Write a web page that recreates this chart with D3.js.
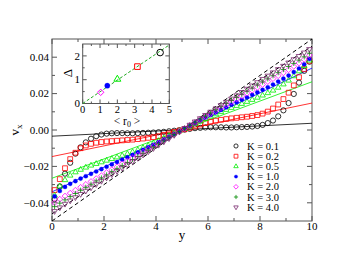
<!DOCTYPE html>
<html>
<head>
<meta charset="utf-8">
<script src="https://cdn.jsdelivr.net/npm/d3@7"></script>
<style>
  body { margin: 0; background: #fff; }
</style>
</head>
<body>
<div id="chart"></div>
<script>
// bin centres across the channel
var yPos = [0.1,0.3,0.5,0.7,0.9,1.1,1.3,1.5,1.7,1.9,2.1,2.3,2.5,2.7,2.9,3.1,3.3,3.5,3.7,3.9,4.1,4.3,4.5,4.7,4.9,
            5.1,5.3,5.5,5.7,5.9,6.1,6.3,6.5,6.7,6.9,7.1,7.3,7.5,7.7,7.9,8.1,8.3,8.5,8.7,8.9,9.1,9.3,9.5,9.7,9.9];

var vK01 = [-0.0380,-0.0310,-0.0240,-0.0180,-0.0130,-0.0095,-0.0068,-0.0048,-0.0034,-0.0025,-0.0020,-0.0018,-0.0017,-0.0017,-0.0018,-0.0018,-0.0017,-0.0016,-0.0015,-0.0014,-0.0012,-0.0010,-0.0007,-0.0004,-0.0001,
            0.0002,0.0006,0.0010,0.0012,0.0014,0.0015,0.0015,0.0015,0.0014,0.0014,0.0015,0.0016,0.0017,0.0019,0.0022,0.0028,0.0038,0.0052,0.0075,0.0108,0.0148,0.0198,0.0260,0.0325,0.0375];
var vK02 = [-0.0330,-0.0270,-0.0210,-0.0160,-0.0125,-0.0100,-0.0085,-0.0076,-0.0070,-0.0066,-0.0063,-0.0061,-0.0059,-0.0057,-0.0055,-0.0053,-0.0050,-0.0047,-0.0043,-0.0039,-0.0034,-0.0027,-0.0019,-0.0011,-0.0003,
            0.0004,0.0012,0.0020,0.0030,0.0038,0.0045,0.0051,0.0056,0.0060,0.0064,0.0067,0.0070,0.0073,0.0077,0.0082,0.0090,0.0101,0.0118,0.0140,0.0170,0.0205,0.0245,0.0290,0.0335,0.0380];
var vK05 = [-0.0360,-0.0310,-0.0275,-0.0250,-0.0232,-0.0218,-0.0206,-0.0195,-0.0186,-0.0177,-0.0168,-0.0159,-0.0150,-0.0141,-0.0131,-0.0121,-0.0110,-0.0098,-0.0086,-0.0073,-0.0060,-0.0046,-0.0032,-0.0019,-0.0006,
            0.0006,0.0019,0.0033,0.0047,0.0061,0.0074,0.0087,0.0099,0.0111,0.0122,0.0133,0.0144,0.0155,0.0166,0.0178,0.0190,0.0203,0.0217,0.0233,0.0251,0.0272,0.0296,0.0323,0.0352,0.0382];
var vK10 = [-0.0365,-0.0335,-0.0313,-0.0296,-0.0281,-0.0267,-0.0254,-0.0241,-0.0228,-0.0215,-0.0202,-0.0189,-0.0176,-0.0163,-0.0150,-0.0137,-0.0123,-0.0109,-0.0095,-0.0081,-0.0067,-0.0052,-0.0037,-0.0022,-0.0007,
            0.0007,0.0022,0.0038,0.0053,0.0068,0.0083,0.0097,0.0111,0.0125,0.0139,0.0152,0.0166,0.0179,0.0193,0.0207,0.0221,0.0235,0.0250,0.0266,0.0282,0.0299,0.0318,0.0338,0.0361,0.0390];
var vK20 = [-0.0400,-0.0380,-0.0363,-0.0347,-0.0331,-0.0315,-0.0299,-0.0283,-0.0267,-0.0251,-0.0234,-0.0218,-0.0202,-0.0186,-0.0170,-0.0154,-0.0138,-0.0122,-0.0106,-0.0089,-0.0073,-0.0057,-0.0041,-0.0025,-0.0008,
            0.0008,0.0025,0.0041,0.0058,0.0074,0.0090,0.0106,0.0122,0.0138,0.0154,0.0170,0.0186,0.0202,0.0218,0.0234,0.0250,0.0266,0.0282,0.0298,0.0314,0.0331,0.0350,0.0368,0.0388,0.0410];
var vK30 = [-0.0421,-0.0402,-0.0384,-0.0366,-0.0349,-0.0331,-0.0315,-0.0298,-0.0280,-0.0264,-0.0247,-0.0229,-0.0213,-0.0196,-0.0178,-0.0162,-0.0145,-0.0128,-0.0111,-0.0094,-0.0077,-0.0060,-0.0043,-0.0026,-0.0009,
            0.0009,0.0026,0.0043,0.0061,0.0077,0.0094,0.0111,0.0128,0.0146,0.0162,0.0179,0.0196,0.0213,0.0230,0.0247,0.0264,0.0281,0.0298,0.0315,0.0332,0.0349,0.0366,0.0384,0.0402,0.0422];
var vK40 = [-0.0446,-0.0426,-0.0406,-0.0388,-0.0370,-0.0352,-0.0334,-0.0316,-0.0298,-0.0280,-0.0262,-0.0244,-0.0226,-0.0208,-0.0190,-0.0172,-0.0154,-0.0136,-0.0118,-0.0100,-0.0082,-0.0064,-0.0046,-0.0028,-0.0010,
            0.0010,0.0028,0.0046,0.0064,0.0082,0.0100,0.0118,0.0136,0.0154,0.0172,0.0190,0.0208,0.0226,0.0244,0.0262,0.0280,0.0298,0.0316,0.0334,0.0352,0.0370,0.0388,0.0406,0.0425,0.0444];

// linear fits (value at y = 0 and y = 10)
var fitK01 = [-0.0034, 0.0037];
var fitK02 = [-0.0146, 0.0148];
var fitK05 = [-0.0265, 0.0265];
var fitK10 = [-0.0340, 0.0340];
var wallLine = [-0.05, 0.05];
var wallLine2 = [-0.046, 0.046];

var labels = ["K = 0.1", "K = 0.2", "K = 0.5", "K = 1.0", "K = 2.0", "K = 3.0", "K = 4.0"];

// inset: slip length vs mean radius
var insetR0 = [4.47, 3.16, 2.0, 1.42, 1.04];
var insetDelta = [2.14, 1.55, 1.02, 0.75, 0.47];
var insetFit = [0, 2.46];

var xTicks = [0, 2, 4, 6, 8, 10];
var yTicks = [-0.04, -0.02, 0.00, 0.02, 0.04];
var insetXTicks = [0, 1, 2, 3, 4, 5];
var insetYTicks = [0, 1, 2];

var series = [
  {v: vK01, shape: "circle",  color: "#000000"},
  {v: vK02, shape: "square",  color: "#ff0000"},
  {v: vK05, shape: "triUp",   color: "#00ee00"},
  {v: vK10, shape: "dot",     color: "#0000ff"},
  {v: vK20, shape: "diamond", color: "#ff00ff"},
  {v: vK30, shape: "plus",    color: "#008b00"},
  {v: vK40, shape: "triDown", color: "#7a2a6e"}
];

var width = 339, height = 260;
var frame = "#555";
var serif = "'Liberation Serif', 'Times New Roman', Times, serif";

var svg = d3.select("#chart").append("svg")
    .attr("width", width)
    .attr("height", height)
    .attr("font-family", serif);

var x = d3.scaleLinear().domain([0, 10]).range([52, 312]);
var y = d3.scaleLinear().domain([-0.05, 0.05]).range([221, 39]);

function markerPath(shape, s) {
  if (shape === "square") return "M" + (-s) + "," + (-s) + "h" + 2 * s + "v" + 2 * s + "h" + (-2 * s) + "Z";
  if (shape === "triUp") return "M0," + (-s) + "L" + 0.87 * s + "," + 0.5 * s + "L" + (-0.87 * s) + "," + 0.5 * s + "Z";
  if (shape === "triDown") return "M0," + s + "L" + 0.87 * s + "," + (-0.5 * s) + "L" + (-0.87 * s) + "," + (-0.5 * s) + "Z";
  if (shape === "diamond") return "M0," + (-s) + "L" + s + ",0L0," + s + "L" + (-s) + ",0Z";
  if (shape === "plus") return "M" + (-s) + ",0H" + s + "M0," + (-s) + "V" + s;
  // circles
  return d3.arc()({innerRadius: 0, outerRadius: s, startAngle: 0, endAngle: 2 * Math.PI});
}

var mainSize = {circle: 2.6, square: 2.4, triUp: 3.2, dot: 2.1, diamond: 2.9, plus: 2.6, triDown: 3.2};

function drawMarker(g, shape, color, s) {
  var filled = shape === "dot";
  return g.append("path")
      .attr("d", markerPath(shape, s))
      .attr("fill", filled ? color : "none")
      .attr("stroke", color)
      .attr("stroke-width", filled ? 0.3 : 0.8);
}

// ---- main frame and ticks
var gMain = svg.append("g");

gMain.append("rect")
    .attr("x", x(0)).attr("y", y(0.05))
    .attr("width", x(10) - x(0)).attr("height", y(-0.05) - y(0.05))
    .attr("fill", "none").attr("stroke", frame).attr("stroke-width", 1);

var xMinor = [1, 3, 5, 7, 9];
var yMinor = [-0.03, -0.01, 0.01, 0.03];

function tickX(g, sc, t, y0, y1, len) {
  g.append("line").attr("x1", sc(t)).attr("x2", sc(t)).attr("y1", y0).attr("y2", y0 - len)
      .attr("stroke", frame).attr("stroke-width", 1);
  g.append("line").attr("x1", sc(t)).attr("x2", sc(t)).attr("y1", y1).attr("y2", y1 + len)
      .attr("stroke", frame).attr("stroke-width", 1);
}
function tickY(g, sc, t, x0, x1, len) {
  g.append("line").attr("y1", sc(t)).attr("y2", sc(t)).attr("x1", x0).attr("x2", x0 + len)
      .attr("stroke", frame).attr("stroke-width", 1);
  g.append("line").attr("y1", sc(t)).attr("y2", sc(t)).attr("x1", x1).attr("x2", x1 - len)
      .attr("stroke", frame).attr("stroke-width", 1);
}

xTicks.forEach(function (t) { tickX(gMain, x, t, y(-0.05), y(0.05), 5); });
xMinor.forEach(function (t) { tickX(gMain, x, t, y(-0.05), y(0.05), 3); });
yTicks.forEach(function (t) { tickY(gMain, y, t, x(0), x(10), 5); });
yMinor.forEach(function (t) { tickY(gMain, y, t, x(0), x(10), 3); });

gMain.selectAll(".xlab").data(xTicks).enter().append("text")
    .attr("x", function (d) { return x(d); })
    .attr("y", 230)
    .attr("text-anchor", "middle")
    .attr("font-size", 11)
    .text(function (d) { return d; });

gMain.selectAll(".ylab").data(yTicks).enter().append("text")
    .attr("x", 49)
    .attr("y", function (d) { return y(d) + 3.7; })
    .attr("text-anchor", "end")
    .attr("font-size", 11)
    .text(function (d) { return d3.format(".2f")(d); });

gMain.append("text")
    .attr("x", 182).attr("y", 238.5)
    .attr("text-anchor", "middle")
    .attr("font-size", 13)
    .text("y");

var vLab = gMain.append("text")
    .attr("transform", "translate(19,130) rotate(-90)")
    .attr("text-anchor", "middle")
    .attr("font-size", 13);
vLab.append("tspan").text("v");
vLab.append("tspan").attr("font-size", 9).attr("dy", 3).text("x");

// ---- lines
var plot = gMain.append("g");

function straight(ends, color, dash, w) {
  plot.append("line")
      .attr("x1", x(0)).attr("y1", y(ends[0]))
      .attr("x2", x(10)).attr("y2", y(ends[1]))
      .attr("stroke", color)
      .attr("stroke-width", w)
      .attr("stroke-dasharray", dash);
}

straight(wallLine, "#000", "4,3", 1);
straight(wallLine2, "#000", "4,3", 1);
straight(fitK01, "#000", null, 0.8);
straight(fitK02, "#ff0000", null, 0.8);
straight(fitK05, "#00ee00", null, 0.8);
straight(fitK10, "#0000ff", null, 0.8);

// ---- markers
series.forEach(function (s) {
  var g = plot.append("g");
  yPos.forEach(function (yy, i) {
    drawMarker(g, s.shape, s.color, mainSize[s.shape])
        .attr("transform", "translate(" + x(yy) + "," + y(s.v[i]) + ")");
  });
});

// ---- legend
var leg = gMain.append("g");
labels.forEach(function (lab, i) {
  var ly = 146 + i * 10.2;
  drawMarker(leg, series[i].shape, series[i].color, mainSize[series[i].shape] * 0.8)
      .attr("transform", "translate(236," + ly + ")");
  leg.append("text")
      .attr("x", 247).attr("y", ly + 3.6)
      .attr("font-size", 10.5)
      .text(lab);
});

// ---- inset
var ix = d3.scaleLinear().domain([0, 5]).range([82.7, 169.3]);
var iy = d3.scaleLinear().domain([0, 2.5]).range([103.5, 44]);
var gIn = svg.append("g");

gIn.append("rect")
    .attr("x", ix(0)).attr("y", iy(2.5))
    .attr("width", ix(5) - ix(0)).attr("height", iy(0) - iy(2.5))
    .attr("fill", "#fff").attr("stroke", frame).attr("stroke-width", 1);

insetXTicks.forEach(function (t) { tickX(gIn, ix, t, iy(0), iy(2.5), 4); });
[0.5, 1.5, 2.5, 3.5, 4.5].forEach(function (t) { tickX(gIn, ix, t, iy(0), iy(2.5), 2); });
insetYTicks.forEach(function (t) { tickY(gIn, iy, t, ix(0), ix(5), 4); });
[0.5, 1.5].forEach(function (t) { tickY(gIn, iy, t, ix(0), ix(5), 2); });

gIn.selectAll(".ixl").data(insetXTicks).enter().append("text")
    .attr("x", function (d) { return ix(d); })
    .attr("y", 112.5)
    .attr("text-anchor", "middle")
    .attr("font-size", 10.5)
    .text(function (d) { return d; });

gIn.selectAll(".iyl").data(insetYTicks).enter().append("text")
    .attr("x", 80)
    .attr("y", function (d) { return iy(d) + 3.7; })
    .attr("text-anchor", "end")
    .attr("font-size", 11)
    .text(function (d) { return d; });

gIn.append("line")
    .attr("x1", ix(0)).attr("y1", iy(insetFit[0]))
    .attr("x2", ix(5)).attr("y2", iy(insetFit[1]))
    .attr("stroke", "#22a822").attr("stroke-width", 1)
    .attr("stroke-dasharray", "3,2");

var insetSize = {circle: 3.3, square: 2.8, triUp: 4.0, dot: 2.6, diamond: 3.2};
insetR0.forEach(function (r, i) {
  var s = series[i];
  drawMarker(gIn, s.shape, s.color, insetSize[s.shape])
      .attr("stroke-width", s.shape === "dot" ? 0.3 : 1)
      .attr("transform", "translate(" + ix(r) + "," + iy(insetDelta[i]) + ")");
});

var rLab = gIn.append("text")
    .attr("x", 127).attr("y", 124.5)
    .attr("text-anchor", "middle")
    .attr("font-size", 11.5);
rLab.append("tspan").text("< r");
rLab.append("tspan").attr("font-size", 8).attr("dy", 2).text("0");
rLab.append("tspan").attr("dy", -2).text(" >");

gIn.append("text")
    .attr("transform", "translate(72,73) rotate(-90)")
    .attr("text-anchor", "middle")
    .attr("font-size", 13)
    .text("Δ");
</script>
</body>
</html>
